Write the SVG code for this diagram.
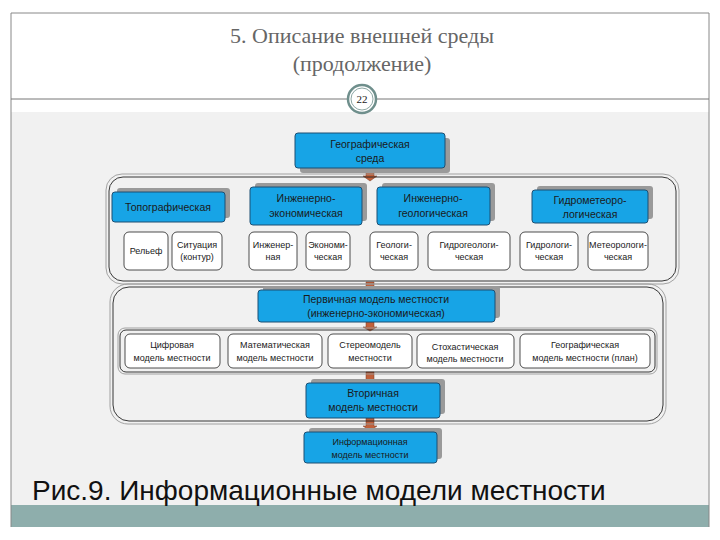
<svg xmlns="http://www.w3.org/2000/svg" width="720" height="540" viewBox="0 0 720 540">
<style>
.b{fill:#17a4e6;stroke:#1d4f73;stroke-width:1}
.s{fill:#9a9a9a}
.w{fill:#fff;stroke:#222;stroke-width:0.8}
.c{fill:none;stroke:#222;stroke-width:0.9}
.co{fill:none;stroke:#999;stroke-width:0.9}
text{font-family:"Liberation Sans",Arial,sans-serif;fill:#1a1a1a;text-anchor:middle}
.t{font-size:10.5px}
.m{font-size:9px}
.ar{fill:#c0603a;stroke:#7a3a20;stroke-width:0.5}
</style>
<rect width="720" height="540" fill="#fff"/>
<rect x="11" y="112" width="698" height="393" fill="#f1f1f1"/>
<rect x="11" y="505" width="698" height="22" fill="#8eaeac"/>
<path d="M11 13H709M11 13V527M709 13V527" stroke="#888" fill="none"/>
<path d="M11 99H347M377 99H709" stroke="#777" fill="none"/>
<circle cx="362" cy="99" r="14" fill="#fff" stroke="#6f8f8c" stroke-width="2.5"/>
<circle cx="362" cy="99" r="11" fill="none" stroke="#6f8f8c" stroke-width="0.8"/>
<text x="362" y="103" style="font-family:'Liberation Serif',serif;font-size:11px">22</text>
<text x="362" y="43" style="font-family:'Liberation Serif',serif;font-size:22px;fill:#666">5. Описание внешней среды</text>
<text x="362" y="71" style="font-family:'Liberation Serif',serif;font-size:22px;fill:#666">(продолжение)</text>
<text x="32" y="500" style="font-size:28px;text-anchor:start;fill:#111">Рис.9. Информационные модели местности</text>

<g id="connectors">
<path class="ar" d="M366 168h8v8h3l-7 5l-7-5h3z"/>
<path class="ar" d="M366 282h8v6h3l-7 4l-7-4h3z"/>
<path class="ar" d="M366 322h8v5h3l-7 4l-7-4h3z"/>
<path class="ar" d="M366 372h8v8h3l-7 4l-7-4h3z"/>
<path class="ar" d="M366 418h8v8h3l-7 5l-7-5h3z"/>
</g>

<g id="container1">
<rect class="co" x="106" y="174" width="573" height="110" rx="16"/>
<rect class="c" x="109" y="177" width="567" height="104" rx="14"/>
</g>
<g id="container2">
<rect class="co" x="110" y="284" width="556" height="140" rx="18"/>
<rect class="c" x="113" y="287" width="550" height="134" rx="16"/>
</g>
<g id="container3">
<rect class="co" x="118" y="328" width="539" height="46" rx="7"/>
<rect class="c" x="120" y="330" width="535" height="42" rx="6"/>
</g>

<g id="geo"><rect class="s" x="300" y="138" width="150" height="35" rx="3"/><rect class="b" x="295" y="133" width="150" height="35" rx="3"/><text class="t" x="370" y="148">Географическая</text><text class="t" x="370" y="162">среда</text></g>

<g id="topo"><rect class="s" x="117" y="188" width="113" height="30" rx="3"/><rect class="b" x="112" y="192" width="113" height="30" rx="3"/><text class="t" x="168" y="211">Топографическая</text></g>
<g id="ie"><rect class="s" x="255" y="183" width="112" height="38" rx="3"/><rect class="b" x="250" y="187" width="112" height="38" rx="3"/><text class="t" x="306" y="202">Инженерно-</text><text class="t" x="306" y="217">экономическая</text></g>
<g id="ig"><rect class="s" x="382" y="183" width="113" height="38" rx="3"/><rect class="b" x="377" y="187" width="113" height="38" rx="3"/><text class="t" x="433" y="202">Инженерно-</text><text class="t" x="433" y="217">геологическая</text></g>
<g id="gm"><rect class="s" x="537" y="186" width="116" height="33" rx="3"/><rect class="b" x="532" y="190" width="116" height="33" rx="3"/><text class="t" x="590" y="204">Гидрометеоро-</text><text class="t" x="590" y="218">логическая</text></g>

<g id="rel"><rect class="w" x="124" y="232" width="44" height="38" rx="5"/><text class="m" x="146" y="254">Рельеф</text></g>
<g id="sit"><rect class="w" x="172" y="232" width="50" height="38" rx="5"/><text class="m" x="197" y="248">Ситуация</text><text class="m" x="197" y="260">(контур)</text></g>
<g id="inzh"><rect class="w" x="249" y="232" width="48" height="38" rx="5"/><text class="m" x="273" y="248">Инженер-</text><text class="m" x="273" y="260">ная</text></g>
<g id="ekon"><rect class="w" x="306" y="232" width="44" height="38" rx="5"/><text class="m" x="328" y="248">Экономи-</text><text class="m" x="328" y="260">ческая</text></g>
<g id="geol"><rect class="w" x="370" y="232" width="48" height="38" rx="5"/><text class="m" x="394" y="248">Геологи-</text><text class="m" x="394" y="260">ческая</text></g>
<g id="gidrogeol"><rect class="w" x="428" y="232" width="82" height="38" rx="5"/><text class="m" x="469" y="248">Гидрогеологи-</text><text class="m" x="469" y="260">ческая</text></g>
<g id="gidrol"><rect class="w" x="520" y="232" width="58" height="38" rx="5"/><text class="m" x="549" y="248">Гидрологи-</text><text class="m" x="549" y="260">ческая</text></g>
<g id="meteo"><rect class="w" x="588" y="232" width="60" height="38" rx="5"/><text class="m" x="618" y="248">Метеорологи-</text><text class="m" x="618" y="260">ческая</text></g>

<g id="perv"><rect class="s" x="263" y="286" width="237" height="32" rx="3"/><rect class="b" x="258" y="290" width="237" height="32" rx="3"/><text class="t" x="376" y="303">Первичная модель местности</text><text class="t" x="376" y="317">(инженерно-экономическая)</text></g>

<g id="cifr"><rect class="w" x="125" y="334" width="95" height="34" rx="5"/><text class="m" x="172" y="348">Цифровая</text><text class="m" x="172" y="361">модель местности</text></g>
<g id="mat"><rect class="w" x="228" y="334" width="94" height="34" rx="5"/><text class="m" x="275" y="348">Математическая</text><text class="m" x="275" y="361">модель местности</text></g>
<g id="stereo"><rect class="w" x="328" y="334" width="84" height="34" rx="5"/><text class="m" x="370" y="348">Стереомодель</text><text class="m" x="370" y="361">местности</text></g>
<g id="stoh"><rect class="w" x="417" y="334" width="97" height="34" rx="5"/><text class="m" x="465" y="350">Стохастическая</text><text class="m" x="465" y="362">модель местности</text></g>
<g id="geoplan"><rect class="w" x="520" y="334" width="130" height="34" rx="5"/><text class="m" x="585" y="348">Географическая</text><text class="m" x="585" y="361">модель местности (план)</text></g>

<g id="vtor"><rect class="s" x="311" y="379" width="134" height="35" rx="3"/><rect class="b" x="306" y="383" width="134" height="35" rx="3"/><text class="t" x="373" y="397">Вторичная</text><text class="t" x="373" y="411">модель местности</text></g>
<g id="inf"><rect class="s" x="309" y="428" width="133" height="31" rx="3"/><rect class="b" x="304" y="432" width="133" height="31" rx="3"/><text class="m" x="370" y="445">Информационная</text><text class="m" x="370" y="458">модель местности</text></g>
</svg>
